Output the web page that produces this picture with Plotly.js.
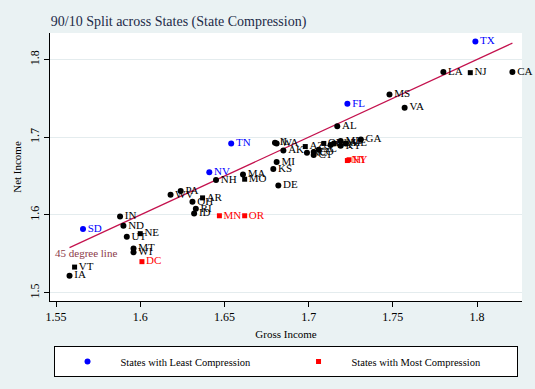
<!DOCTYPE html>
<html>
<head>
<meta charset="utf-8">
<script src="https://cdn.plot.ly/plotly-3.0.1.min.js"></script>
<style>
  html, body { margin: 0; padding: 0; background: #eaf2f3; }
  #chart { width: 535px; height: 389px; }
</style>
</head>
<body>
<div id="chart"></div>
<script>
// states with least compression (blue)
const leastStates = ['TX', 'FL', 'TN', 'NV', 'SD'];
const leastGross = [1.799, 1.723, 1.654, 1.641, 1.566];
const leastNet = [1.823, 1.743, 1.692, 1.655, 1.582];

// states with most compression (red)
const mostStates = ['MN', 'OR', 'DC', 'NY', 'HI'];
const mostGross = [1.647, 1.662, 1.601, 1.723, 1.724];
const mostNet = [1.599, 1.599, 1.540, 1.670, 1.671];

// other states, circle markers
const otherStates = ['LA', 'CA', 'MS', 'VA', 'AL', 'GA', 'IL', 'WA', 'AK', 'NC', 'CO', 'CT', 'SC', 'WY', 'NM', 'MD', 'KY', 'ME',
  'MI', 'KS', 'DE', 'MA', 'NH', 'WV', 'PA', 'OH', 'RI', 'ID', 'IN', 'ND', 'UT', 'MT', 'WI', 'IA'];
const otherGross = [1.780, 1.821, 1.748, 1.757, 1.717, 1.731, 1.680, 1.681, 1.685, 1.699, 1.703, 1.703, 1.706, 1.713, 1.715, 1.719, 1.719, 1.722,
  1.681, 1.679, 1.682, 1.661, 1.645, 1.618, 1.624, 1.631, 1.633, 1.632, 1.588, 1.590, 1.592, 1.596, 1.596, 1.558];
const otherNet = [1.784, 1.784, 1.755, 1.738, 1.714, 1.697, 1.693, 1.692, 1.683, 1.680, 1.681, 1.677, 1.684, 1.690, 1.692, 1.695, 1.689, 1.692,
  1.668, 1.659, 1.638, 1.652, 1.645, 1.626, 1.631, 1.617, 1.608, 1.602, 1.598, 1.586, 1.572, 1.557, 1.552, 1.522];

// other states, square markers
const sqStates = ['NJ', 'AZ', 'OK', 'MO', 'AR', 'NE', 'VT'];
const sqGross = [1.796, 1.698, 1.709, 1.662, 1.637, 1.600, 1.561];
const sqNet = [1.783, 1.688, 1.692, 1.646, 1.622, 1.576, 1.533];

const xTicks = [1.55, 1.6, 1.65, 1.7, 1.75, 1.8];
const yTicks = [1.5, 1.6, 1.7, 1.8];

const serif = 'Liberation Serif, Times New Roman, serif';

const allGross = leastGross.concat(mostGross, otherGross, sqGross);
const lineX = [Math.min(...allGross), Math.max(...allGross)];

function labelled(xs, ys, names, color, symbol, size, legendName, show) {
  return {
    x: xs, y: ys, text: names,
    type: 'scatter', mode: 'markers+text',
    textposition: 'middle right',
    textfont: { family: serif, size: 11, color: color },
    marker: { color: color, symbol: symbol, size: size },
    name: legendName || '',
    showlegend: !!show,
    cliponaxis: false,
    hoverinfo: 'skip'
  };
}

const data = [
  {
    x: lineX, y: lineX,
    type: 'scatter', mode: 'lines',
    line: { color: '#c4124e', width: 1.2 },
    showlegend: false, hoverinfo: 'skip'
  },
  labelled(otherGross, otherNet, otherStates, '#000000', 'circle', 6),
  labelled(sqGross, sqNet, sqStates, '#000000', 'square', 5),
  labelled(leastGross, leastNet, leastStates, '#0000ff', 'circle', 6, 'States with Least Compression', true),
  labelled(mostGross, mostNet, mostStates, '#ff0000', 'square', 5, 'States with Most Compression', true)
];

const layout = {
  width: 535, height: 389,
  paper_bgcolor: '#eaf2f3',
  plot_bgcolor: '#ffffff',
  margin: { l: 50, r: 13, t: 33, b: 85 },
  font: { family: serif, color: '#000000' },
  title: {
    text: '90/10 Split across States (State Compression)',
    xref: 'container', x: 0.095, xanchor: 'left',
    yref: 'container', y: 0.945, yanchor: 'middle',
    font: { family: serif, size: 14, color: '#1c2a48' }
  },
  xaxis: {
    range: [1.5464, 1.8267],
    tickvals: xTicks,
    ticktext: xTicks.map(String),
    ticks: 'outside', ticklen: 5, tickcolor: '#000',
    tickfont: { family: serif, size: 12 },
    showline: true, linecolor: '#000', linewidth: 1,
    showgrid: false, zeroline: false,
    title: { text: 'Gross Income', font: { family: serif, size: 11 }, standoff: 6 }
  },
  yaxis: {
    range: [1.4894, 1.834],
    tickvals: yTicks,
    ticktext: yTicks.map(String),
    tickangle: -90,
    ticks: 'outside', ticklen: 5, tickcolor: '#000',
    tickfont: { family: serif, size: 12 },
    showline: true, linecolor: '#000', linewidth: 1,
    showgrid: true, gridcolor: '#e4ecee', zeroline: false,
    title: { text: 'Net Income', font: { family: serif, size: 11 }, standoff: 4 }
  },
  legend: {
    orientation: 'h',
    x: 0.499, xanchor: 'center',
    y: -0.168, yanchor: 'top',
    bgcolor: '#ffffff', bordercolor: '#000000', borderwidth: 1,
    entrywidth: 160, entrywidthmode: 'pixels',
    itemwidth: 56,
    font: { family: serif, size: 10.5 }
  },
  annotations: [{
    x: lineX[0], y: lineX[0],
    xref: 'x', yref: 'y',
    text: '45 degree line',
    showarrow: false,
    xanchor: 'left', yanchor: 'middle',
    xshift: -17, yshift: -5,
    font: { family: serif, size: 11, color: '#8b3a48' }
  }]
};

Plotly.newPlot('chart', data, layout, { displayModeBar: false, staticPlot: true });
</script>
</body>
</html>
